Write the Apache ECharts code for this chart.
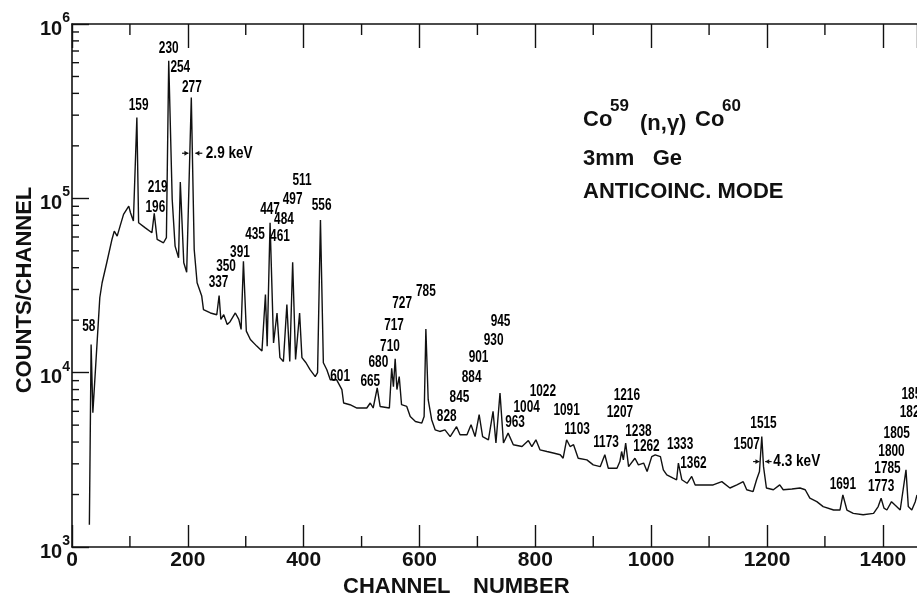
<!DOCTYPE html>
<html><head><meta charset="utf-8">
<script src="https://cdn.jsdelivr.net/npm/echarts@6/dist/echarts.min.js"></script>
<style>html,body{margin:0;padding:0;background:#fff}#c{width:917px;height:596px}</style>
</head><body><div id="c"></div>
<script>
// Spectrum trace: channel number and counts/channel
const channels = [30,33,36,48,52,60,69,73,78,83,89,98,101,106,112,115,126,138,142,147,158,163,167,173,178,184,187,193,198,206,211,216,224,227,239,250,254,257,262,268,273,282,288,292,296,301,308,319,328,334,337,342,348,354,359,365,371,376,381,386,393,397,404,411,420,424,429,434,440,446,457,466,469,480,492,509,515,520,527,532,548,552,555,558,561,565,569,578,584,593,604,608,611,615,621,627,635,644,653,664,670,682,689,696,703,709,719,727,732,739,745,753,762,777,788,794,801,808,820,831,843,848,854,860,866,874,889,900,912,920,926,941,946,949,952,956,961,972,978,987,993,1001,1007,1016,1021,1027,1038,1044,1047,1053,1062,1070,1076,1090,1107,1122,1136,1148,1159,1165,1176,1182,1187,1191,1194,1199,1211,1222,1228,1243,1257,1266,1274,1286,1297,1315,1326,1331,1338,1349,1366,1384,1392,1397,1402,1407,1415,1421,1430,1440,1444,1450,1456,1459];
const counts = [1340,14500,5900,26900,32800,42700,58100,64900,60700,69300,80900,90300,82700,74100,291000,72500,67900,63500,82000,58100,55600,59500,615000,98700,53200,45600,124000,42700,37700,379000,50900,32800,27500,23000,22000,21500,27700,20200,21500,18900,19600,22000,20200,17700,43600,17300,15500,14200,13300,28100,14200,72500,14800,22000,12200,11600,24600,11600,43000,11900,22000,12200,11400,10400,9500,10000,75000,11400,10400,9100,9100,8000,6700,6550,6270,6270,6700,6270,8170,6400,6270,10600,8300,12000,8000,9500,6550,6400,5600,5250,5140,5600,17800,7000,5370,4700,4600,4700,4300,4900,4400,4400,5030,4300,5740,4300,4120,6000,3950,7650,3950,4500,3860,3770,4080,3770,4120,3610,3530,3460,3380,3230,4120,3770,3860,3230,3160,2960,2890,3380,2830,2830,3090,3530,3160,3950,2890,3230,2960,3030,2710,3300,3380,3300,2770,2590,2480,2430,3030,2430,2320,2540,2270,2270,2270,2370,2180,2270,2370,2130,2080,2430,2710,4300,2890,2180,2130,2270,2130,2150,2180,2130,1905,1820,1705,1630,1630,1990,1630,1560,1530,1560,1705,1905,1670,1630,1820,1740,1630,2770,1705,1630,1820,1990];

// Peak energy labels (keV) and where they sit on the chart (channel, counts)
const labelTexts    = ['58','159','230','254','277','219','196','337','350','391','435','447','461','484','497','511','556','601','665','680','710','717','727','785','828','845','884','901','930','945','963','1004','1022','1091','1103','1173','1216','1207','1238','1262','1333','1362','1515','1507','1691','1773','1785','1800','1805','1829','1858'];
const labelChannels = [29,115,167,187,207,148,144,253,266,290,316,342,359,366,381,397,431,463,515,529,549,556,570,611,647,669,690,702,728,740,765,785,813,854,872,922,958,946,978,992,1050,1073,1194,1165,1331,1397,1408,1415,1424,1452,1455];
const labelCounts   = [18460,339000,718000,564000,433000,115200,88400,32800,40800,48700,62100,86400,60700,75700,98700,125700,90300,9520,8910,11460,14170,18620,24920,29320,5610,7155,9320,12150,15340,19710,5140,6320,7810,6050,4700,3977,7380,5870,4600,3770,3860,2990,5090,3860,2270,2222,2830,3530,4500,5870,7475];

// Resolution (FWHM) notes: arrow channels [leftStart, leftEnd, rightEnd, rightStart], level, text
const fwhmTexts    = ['2.9 keV', '4.3 keV'];
const fwhmArrows   = [[190,201,213,225],[1176,1187,1197,1208]];
const fwhmCounts   = [181400, 3090];
const fwhmTextCh   = [231, 1211];

// Axis ticks
const xTickLabels  = [0,200,400,600,800,1000,1200,1400];
const xMinorTicks  = [100,300,500,700,900,1100,1300];
const yMinorTicks  = [2000,3000,4000,5000,6000,7000,8000,9000,20000,30000,40000,50000,60000,70000,80000,90000,200000,300000,400000,500000,600000,700000,800000,900000];

const INK = '#111';
const SANS = "'Liberation Sans', Arial, sans-serif";
const LABEL_FONT = 'bold 16px ' + SANS;
const NARROW_SCALE = 0.74;

const chart = echarts.init(document.getElementById('c'), null, {renderer: 'canvas'});

const xAxisCommon = {
  type: 'value', min: 0, max: 1459, interval: 200,
  axisLine: {show: true, lineStyle: {color: INK, width: 1.6}},
  splitLine: {show: false}
};

chart.setOption({
  animation: false,
  backgroundColor: '#fff',
  grid: {left: 72, right: 0, top: 24, bottom: 49, containLabel: false, outerBoundsMode: 'none'},
  xAxis: [
    Object.assign({}, xAxisCommon, {
      position: 'bottom',
      axisTick: {show: true, inside: true, length: 22, lineStyle: {color: INK, width: 1.4}},
      axisLabel: {
        show: true, margin: 3, color: INK, fontSize: 21, fontWeight: 'bold', fontFamily: SANS,
        formatter: v => (xTickLabels.indexOf(v) >= 0 ? String(v) : ''),
        showMinLabel: true, showMaxLabel: false
      }
    }),
    Object.assign({}, xAxisCommon, {
      position: 'top',
      axisTick: {show: true, inside: true, length: 24, lineStyle: {color: INK, width: 1.4}},
      axisLabel: {show: false}
    })
  ],
  yAxis: {
    type: 'log', logBase: 10, min: 1000, max: 1000000, splitNumber: 3,
    axisLine: {show: true, lineStyle: {color: INK, width: 1.6}},
    axisTick: {show: true, inside: true, length: 17, lineStyle: {color: INK, width: 1.4}},
    splitLine: {show: false},
    axisLabel: {
      show: true, margin: 2, showMinLabel: true, showMaxLabel: true,
      padding: [10, 0, 0, 0],
      formatter: v => '{a|10}{s|' + Math.round(Math.log10(v)) + '}',
      rich: {
        a: {fontSize: 20, fontWeight: 'bold', fontFamily: SANS, color: INK, lineHeight: 20, verticalAlign: 'bottom'},
        s: {fontSize: 14, fontWeight: 'bold', fontFamily: SANS, color: INK, lineHeight: 14, padding: [0, 0, 14, 0], verticalAlign: 'bottom'}
      }
    }
  },
  series: [
    {
      type: 'line', name: 'spectrum',
      data: channels.map((c, i) => [c, counts[i]]),
      showSymbol: false, symbol: 'none',
      lineStyle: {color: INK, width: 1.4},
      z: 3
    },
    {
      type: 'custom', name: 'peaks', coordinateSystem: 'cartesian2d', clip: false,
      data: labelTexts.map((t, i) => [labelChannels[i], labelCounts[i]]),
      renderItem: (params, api) => {
        const p = api.coord([api.value(0), api.value(1)]);
        return {
          type: 'text', x: p[0], y: p[1], scaleX: NARROW_SCALE, scaleY: 1,
          style: {text: labelTexts[params.dataIndex], fill: '#000', font: LABEL_FONT, align: 'center', verticalAlign: 'middle'}
        };
      },
      silent: true, z: 4
    },
    {
      type: 'custom', name: 'xminor', coordinateSystem: 'cartesian2d',
      data: xMinorTicks.map(v => [v, 1000]),
      renderItem: (params, api) => {
        const v = api.value(0);
        const pb = api.coord([v, 1000]);
        const pt = api.coord([v, 1000000]);
        return {type: 'group', children: [
          {type: 'line', shape: {x1: pb[0], y1: pb[1], x2: pb[0], y2: pb[1] - 11}, style: {stroke: INK, lineWidth: 1.4}},
          {type: 'line', shape: {x1: pt[0], y1: pt[1], x2: pt[0], y2: pt[1] + 11}, style: {stroke: INK, lineWidth: 1.4}}
        ]};
      },
      silent: true
    },
    {
      type: 'custom', name: 'yminor', coordinateSystem: 'cartesian2d',
      data: yMinorTicks.map(v => [0, v]),
      renderItem: (params, api) => {
        const p = api.coord([0, api.value(1)]);
        return {type: 'line', shape: {x1: p[0], y1: p[1], x2: p[0] + 7, y2: p[1]}, style: {stroke: INK, lineWidth: 1.4}};
      },
      silent: true
    },
    {
      type: 'custom', name: 'fwhm', coordinateSystem: 'cartesian2d', clip: false,
      data: fwhmTexts.map((t, i) => [fwhmTextCh[i], fwhmCounts[i]]),
      renderItem: (params, api) => {
        const i = params.dataIndex;
        const a = fwhmArrows[i].map(c => api.coord([c, fwhmCounts[i]]));
        const y = a[0][1];
        const tp = api.coord([fwhmTextCh[i], fwhmCounts[i]]);
        const st = {stroke: INK, lineWidth: 1.2};
        return {type: 'group', children: [
          {type: 'line', shape: {x1: a[0][0], y1: y, x2: a[1][0], y2: y}, style: st},
          {type: 'polygon', shape: {points: [[a[1][0], y], [a[1][0] - 4, y - 2.4], [a[1][0] - 4, y + 2.4]]}, style: {fill: INK}},
          {type: 'line', shape: {x1: a[3][0], y1: y, x2: a[2][0], y2: y}, style: st},
          {type: 'polygon', shape: {points: [[a[2][0], y], [a[2][0] + 4, y - 2.4], [a[2][0] + 4, y + 2.4]]}, style: {fill: INK}},
          {type: 'text', x: tp[0], y: y, scaleX: 0.85, scaleY: 1, style: {text: fwhmTexts[i], fill: '#000', font: LABEL_FONT, align: 'left', verticalAlign: 'middle'}}
        ]};
      },
      silent: true
    }
  ],
  graphic: [
    {type: 'text', x: 343, y: 587, style: {text: 'CHANNEL', fill: INK, font: 'bold 22px ' + SANS, align: 'left', verticalAlign: 'middle'}},
    {type: 'text', x: 473, y: 587, style: {text: 'NUMBER', fill: INK, font: 'bold 22px ' + SANS, align: 'left', verticalAlign: 'middle'}},
    {type: 'text', x: 24.5, y: 290, rotation: Math.PI / 2, style: {text: 'COUNTS/CHANNEL', fill: INK, font: 'bold 22px ' + SANS, align: 'center', verticalAlign: 'middle'}},
    {type: 'text', x: 583, y: 120, style: {text: 'Co', fill: INK, font: 'bold 22px ' + SANS, align: 'left', verticalAlign: 'middle'}},
    {type: 'text', x: 610, y: 106, style: {text: '59', fill: INK, font: 'bold 17px ' + SANS, align: 'left', verticalAlign: 'middle'}},
    {type: 'text', x: 640, y: 124, style: {text: '(n,γ)', fill: INK, font: 'bold 22px ' + SANS, align: 'left', verticalAlign: 'middle'}},
    {type: 'text', x: 695, y: 120, style: {text: 'Co', fill: INK, font: 'bold 22px ' + SANS, align: 'left', verticalAlign: 'middle'}},
    {type: 'text', x: 722, y: 106, style: {text: '60', fill: INK, font: 'bold 17px ' + SANS, align: 'left', verticalAlign: 'middle'}},
    {type: 'text', x: 583, y: 159, style: {text: '3mm   Ge', fill: INK, font: 'bold 22px ' + SANS, align: 'left', verticalAlign: 'middle'}},
    {type: 'text', x: 583, y: 192, style: {text: 'ANTICOINC. MODE', fill: INK, font: 'bold 22px ' + SANS, align: 'left', verticalAlign: 'middle'}}
  ]
});
</script>
</body></html>
